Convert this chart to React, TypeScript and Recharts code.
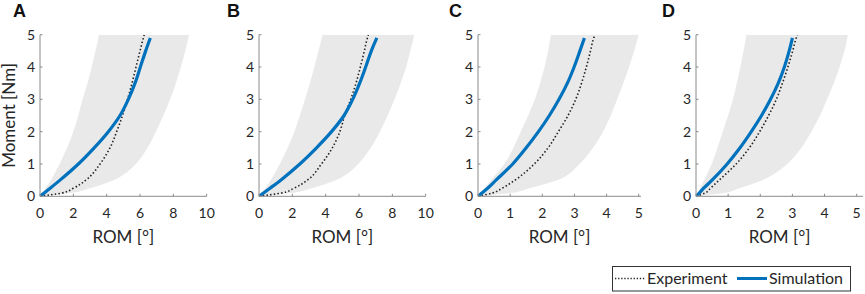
import React from 'react';
import { ComposedChart, XAxis, YAxis, Area, Line, Legend } from 'recharts';

// Moment grid (Nm) shared by all panels
const moment = [0, 0.1, 0.25, 0.5, 1, 1.5, 2, 2.5, 3, 3.5, 4, 4.5, 4.9, 5];
const momentTicks = [0, 1, 2, 3, 4, 5];

// Panel A (ROM in degrees at each moment)
const aBandLo = [0, 0.14, 0.33, 0.65, 1.18, 1.62, 2.0, 2.3, 2.55, 2.85, 3.1, 3.33, 3.5, 3.53];
const aBandHi = [0, 1.8, 3.0, 4.4, 5.75, 6.45, 6.95, 7.4, 7.81, 8.15, 8.45, 8.72, 8.9, 8.95];
const aExp = [0, 1.3, 2.0, 2.75, 3.6, 4.2, 4.6, 4.95, 5.25, 5.52, 5.76, 6.0, 6.2, 6.25];
const aSim = [0, 0.25, 0.61, 1.2, 2.3, 3.25, 4.1, 4.8, 5.3, 5.7, 6.02, 6.34, 6.62, null];

// Panel B
const bBandLo = [0, 0.15, 0.37, 0.7, 1.25, 1.72, 2.12, 2.45, 2.76, 3.05, 3.32, 3.57, 3.76, 3.8];
const bBandHi = [0, 1.9, 3.15, 4.6, 5.95, 6.7, 7.25, 7.72, 8.13, 8.5, 8.83, 9.08, 9.27, 9.31];
const bExp = [0, 1.35, 2.1, 2.9, 3.75, 4.4, 4.85, 5.14, 5.5, 5.82, 6.08, 6.32, 6.5, 6.56];
const bSim = [0, 0.27, 0.66, 1.3, 2.45, 3.45, 4.35, 5.1, 5.62, 6.04, 6.4, 6.74, 7.07, null];

// Panel C
const cBandLo = [0, 0.08, 0.2, 0.4, 0.82, 1.1, 1.33, 1.56, 1.77, 1.93, 2.07, 2.18, 2.25, 2.27];
const cBandHi = [0, 1.0, 1.6, 2.46, 3.16, 3.58, 3.89, 4.13, 4.33, 4.52, 4.7, 4.86, 4.97, 5.0];
const cExp = [0, 0.45, 0.75, 1.15, 1.75, 2.18, 2.5, 2.8, 3.04, 3.22, 3.37, 3.5, 3.6, 3.64];
const cSim = [0, 0.12, 0.3, 0.56, 1.08, 1.5, 1.88, 2.22, 2.52, 2.78, 2.99, 3.17, 3.31, null];

// Panel D
const dBandLo = [0, 0.05, 0.12, 0.25, 0.49, 0.67, 0.83, 1.0, 1.15, 1.27, 1.38, 1.48, 1.55, 1.56];
const dBandHi = [0, 0.85, 1.35, 2.06, 2.84, 3.28, 3.59, 3.86, 4.08, 4.29, 4.47, 4.62, 4.71, 4.73];
const dExp = [0, 0.28, 0.45, 0.72, 1.25, 1.66, 1.98, 2.26, 2.5, 2.69, 2.86, 3.01, 3.12, 3.16];
const dSim = [0, 0.1, 0.24, 0.5, 0.97, 1.37, 1.72, 2.04, 2.32, 2.56, 2.75, 2.9, 3.0, null];

const romTicks10 = [0, 2, 4, 6, 8, 10];
const romTicks5 = [0, 1, 2, 3, 4, 5];

const AXIS = '#8a8a8a';
const TEXT = '#262626';
const FONT = 'Lato, "Open Sans", sans-serif';

const XTick = (p: any) => (
  <g>
    <line x1={p.x} x2={p.x} y1={p.y} y2={p.y - 2.5} stroke={AXIS} />
    <text x={p.x} y={p.y + 21.5} textAnchor="middle" fontFamily={FONT} fontSize={14} fill={TEXT}>
      {p.payload.value}
    </text>
  </g>
);

const YTick = (p: any) => (
  <g>
    <line x1={p.x} x2={p.x + 2.5} y1={p.y} y2={p.y} stroke={AXIS} />
    <text x={p.x - 5} y={p.y + 5} textAnchor="end" fontFamily={FONT} fontSize={14} fill={TEXT}>
      {p.payload.value}
    </text>
  </g>
);

const LegendBox = (props: any) => {
  const items = (props.payload || []).filter((e: any) => e.type !== 'none');
  const offsets = [3, 125];
  return (
    <svg width={240} height={26} style={{ display: 'block' }}>
      <rect x={0.5} y={0.5} width={238} height={24.5} fill="#fff" stroke="#333" strokeWidth={1} />
      {items.map((e: any, i: number) => {
        const x0 = offsets[i] ?? 3 + i * 120;
        const dashed = e.payload && e.payload.strokeDasharray;
        return (
          <g key={i}>
            <line
              x1={x0}
              x2={x0 + 30}
              y1={12.5}
              y2={12.5}
              stroke={e.color}
              strokeWidth={dashed ? 1.3 : 3}
              strokeDasharray={dashed ? '1.3 1.8' : undefined}
            />
            <text x={x0 + 32} y={17.5} fontFamily={FONT} fontSize={16} fill={TEXT}>
              {e.value}
            </text>
          </g>
        );
      })}
    </svg>
  );
};

type PanelCfg = {
  letter: string;
  left: number;
  width: number;
  yWidth: number;
  right: number;
  xDomain: [number, number];
  xTicks: number[];
  bandLo: number[];
  bandHi: number[];
  exp: number[];
  sim: (number | null)[];
  letterX: number;
  yLabel?: boolean;
  legend?: boolean;
};

const panels: PanelCfg[] = [
  { letter: 'A', left: 0, width: 216, yWidth: 40, right: 9.3, xDomain: [0, 10], xTicks: romTicks10, bandLo: aBandLo, bandHi: aBandHi, exp: aExp, sim: aSim, letterX: 13, yLabel: true },
  { letter: 'B', left: 216, width: 216, yWidth: 43, right: 6.3, xDomain: [0, 10], xTicks: romTicks10, bandLo: bBandLo, bandHi: bBandHi, exp: bExp, sim: bSim, letterX: 227 },
  { letter: 'C', left: 432, width: 216, yWidth: 46, right: 7, xDomain: [0, 5.07], xTicks: romTicks5, bandLo: cBandLo, bandHi: cBandHi, exp: cExp, sim: cSim, letterX: 449 },
  { letter: 'D', left: 648, width: 217, yWidth: 48, right: 1.9, xDomain: [0, 5.2], xTicks: romTicks5, bandLo: dBandLo, bandHi: dBandHi, exp: dExp, sim: dSim, letterX: 662, legend: true },
];

function Panel({ cfg }: { cfg: PanelCfg }) {
  const data = moment.map((m, i) => ({
    m,
    band: [cfg.bandLo[i], cfg.bandHi[i]],
    exp: cfg.exp[i],
    sim: cfg.sim[i],
  }));
  return (
    <>
      <div
        style={{
          position: 'absolute',
          left: cfg.letterX,
          top: 0,
          fontFamily: '"Liberation Sans", Arial, sans-serif',
          fontWeight: 'bold',
          fontSize: 18,
          lineHeight: '22px',
          color: '#111',
        }}
      >
        {cfg.letter}
      </div>
      <div style={{ position: 'absolute', left: cfg.left, top: 0 }}>
        <ComposedChart
          layout="vertical"
          width={cfg.width}
          height={294}
          data={data}
          margin={{ top: 34.7, right: cfg.right, bottom: 50.7, left: 0 }}
        >
          <XAxis
            type="number"
            domain={cfg.xDomain}
            ticks={cfg.xTicks}
            allowDataOverflow
            height={47}
            axisLine={{ stroke: AXIS }}
            tickLine={false}
            tickSize={0}
            tickMargin={0}
            tick={XTick}
            interval={0}
            label={{ value: 'ROM [°]', position: 'insideBottom', offset: 0, fill: TEXT, fontSize: 17, fontFamily: FONT }}
          />
          <YAxis
            type="number"
            dataKey="m"
            domain={[0, 5]}
            ticks={momentTicks}
            reversed
            allowDataOverflow
            width={cfg.yWidth}
            axisLine={{ stroke: AXIS }}
            tickLine={false}
            tickSize={0}
            tickMargin={0}
            tick={YTick}
            interval={0}
            label={
              cfg.yLabel
                ? { value: 'Moment [Nm]', angle: -90, position: 'insideLeft', offset: 9, fill: TEXT, fontSize: 17, fontFamily: FONT, style: { textAnchor: 'middle' } }
                : undefined
            }
          />
          <Area
            dataKey="band"
            type="monotone"
            stroke="none"
            fill="#e9e9e9"
            fillOpacity={1}
            isAnimationActive={false}
            legendType="none"
            activeDot={false}
            dot={false}
          />
          <Line
            dataKey="exp"
            name="Experiment"
            type="monotone"
            stroke="#222"
            strokeWidth={1.6}
            strokeDasharray="1.5 2.2"
            dot={false}
            activeDot={false}
            isAnimationActive={false}
          />
          <Line
            dataKey="sim"
            name="Simulation"
            type="monotone"
            stroke="#0072BD"
            strokeWidth={3.2}
            strokeLinecap="butt"
            dot={false}
            activeDot={false}
            isAnimationActive={false}
          />
          {cfg.legend ? (
            <Legend
              layout="horizontal"
              verticalAlign="middle"
              align="center"
              content={LegendBox}
              wrapperStyle={{ left: -36, top: 266, width: 240, height: 26 }}
            />
          ) : null}
        </ComposedChart>
      </div>
    </>
  );
}

export default function App() {
  return (
    <div style={{ position: 'absolute', left: 0, top: 0, width: 865, height: 294, background: '#fff', overflow: 'hidden' }}>
      <style>{`.recharts-surface{overflow:visible}`}</style>
      {panels.map((p) => (
        <Panel key={p.letter} cfg={p} />
      ))}
    </div>
  );
}
